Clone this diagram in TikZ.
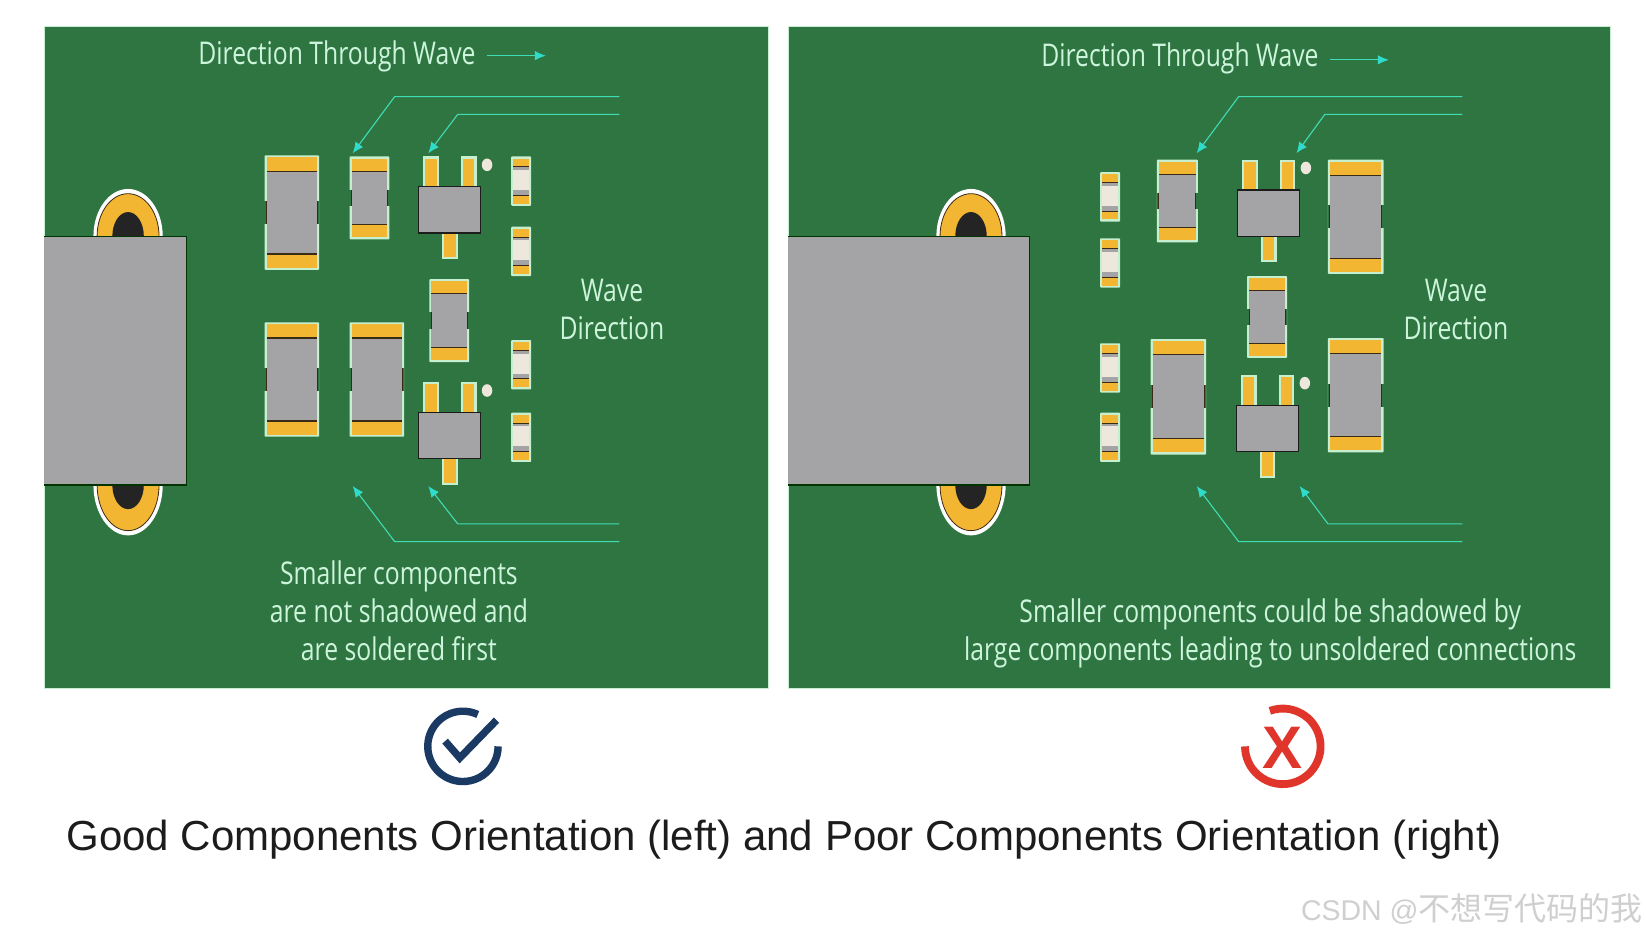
\documentclass[tikz,border=0pt]{standalone}
\usepackage{fontspec}
\setmainfont{Liberation Sans}
\newfontfamily\pcbfont[FakeStretch=0.79]{Open Sans}
\newfontfamily\capfont{Liberation Sans}
\newfontfamily\cjkfont{Noto Sans CJK SC}
\usetikzlibrary{arrows.meta}
\definecolor{board}{HTML}{2F7541}
\definecolor{edgeL}{HTML}{C6EFCF}
\definecolor{padY}{HTML}{F2B632}
\definecolor{padD}{HTML}{3A2A18}
\definecolor{bodyG}{HTML}{A4A4A6}
\definecolor{cream}{HTML}{EDE7DC}
\definecolor{lineT}{HTML}{3FDDB6}
\definecolor{tipT}{HTML}{2FDCCB}
\definecolor{textL}{HTML}{CDF5DC}
\definecolor{navy}{HTML}{1B3A63}
\definecolor{redI}{HTML}{E0352B}
\definecolor{inkK}{HTML}{1C1C1C}
\definecolor{holeK}{HTML}{242424}
\tikzset{
 panel/.style={fill=board,draw=edgeL,line width=.6pt},
 pcbtext/.style={font=\pcbfont\fontsize{31.3}{37.8}\selectfont,text=textL,align=center,inner sep=0pt},
 guide/.style={draw=lineT,line width=1.1pt,-{Latex[length=11pt,width=9.5pt,color=tipT]}},
 mainedge/.style={draw=black!80!green,line width=1.2pt},
 legout/.style={fill=edgeL},
}
% big/medium chip: x1 y1 x2 y2 pad-height
\newcommand{\chip}[5]{%
 \fill[edgeL,rounded corners=.8pt] (#1,#2) rectangle (#3,#4);
 \fill[bodyG] (#1+2,#2+2) rectangle (#3-2,#4-2);
 \fill[board] (#1-.3,{#2+(#4-#2)*.40}) rectangle (#1+1.8,{#2+(#4-#2)*.60});
 \fill[board] (#3+.3,{#2+(#4-#2)*.40}) rectangle (#3-1.8,{#2+(#4-#2)*.60});
 \draw[padD,line width=.9pt] (#1+1.8,{#2+(#4-#2)*.40}) -- (#1+1.8,{#2+(#4-#2)*.60});
 \draw[padD,line width=.9pt] (#3-1.8,{#2+(#4-#2)*.40}) -- (#3-1.8,{#2+(#4-#2)*.60});
 \fill[padY] (#1+2,#2+2) rectangle (#3-2,#2+2+#5);
 \fill[padY] (#1+2,#4-2) rectangle (#3-2,#4-2-#5);
 \draw[padD,line width=1.1pt] (#1+2,#2+2+#5) -- (#3-2,#2+2+#5);
 \draw[padD,line width=1.1pt] (#1+2,#4-2-#5) -- (#3-2,#4-2-#5);
}
% small chip with cream body
\newcommand{\smallchip}[2]{%
 \fill[edgeL,rounded corners=.8pt] (#1,#2) rectangle (#1+19,#2+47);
 \fill[bodyG] (#1+2,#2+2) rectangle (#1+17,#2+45);
 \fill[cream] (#1+2,#2+13) rectangle (#1+17,#2+32);
 \fill[padY] (#1+2,#2+2) rectangle (#1+17,#2+10);
 \fill[padY] (#1+2,#2+37) rectangle (#1+17,#2+45);
 \draw[padD,line width=1pt] (#1+2,#2+10) -- (#1+17,#2+10);
 \draw[padD,line width=1pt] (#1+2,#2+37) -- (#1+17,#2+37);
}
% transistor: left of body, top of body
\newcommand{\transistor}[2]{%
 \fill[legout] (#1+4,#2-29) rectangle (#1+19,#2+2);
 \fill[legout] (#1+40,#2-29) rectangle (#1+55,#2+2);
 \fill[legout] (#1+22,#2+42) rectangle (#1+37,#2+69);
 \fill[padY] (#1+6,#2-27) rectangle (#1+17,#2+2);
 \fill[padY] (#1+42,#2-27) rectangle (#1+53,#2+2);
 \fill[padY] (#1+24,#2+42) rectangle (#1+35,#2+67);
 \filldraw[fill=bodyG,draw=inkK,line width=1.1pt] (#1,#2) rectangle (#1+59,#2+44);
 \fill[cream] (#1+65,#2-21) ellipse [x radius=5,y radius=6];
}
% mounting pad pair and connector body
\newcommand{\connector}[3]{%
 \foreach \cy/\ry in {225/45,462/48}{
  \fill[white] (#1,\cy) ellipse [x radius=33,y radius=\ry];
  \filldraw[fill=padY,draw=padD,line width=.8pt] (#1,\cy) ellipse [x radius=29.5,y radius=\ry-4.5];
  \fill[holeK] (#1,\cy) ellipse [x radius=15,y radius=23];
 }
 \fill[bodyG] (#2,225) rectangle (#3,462);
 \draw[mainedge] (#2,225) -- (#3,225) -- (#3,462) -- (#2,462);
}
\begin{document}
\begin{tikzpicture}[x=1.0497pt,y=-1.0497pt]
\useasboundingbox (0,0) rectangle (1568,893);
\fill[white] (0,0) rectangle (1568,893);

% panels
\filldraw[panel] (42,25) rectangle (732,656);
\filldraw[panel] (751,25) rectangle (1534,656);

% ---------- left panel
\connector{122}{42}{178}
\chip{252}{148}{304}{257}{13}
\chip{333}{149}{371}{228}{12}
\chip{252}{307}{304}{416}{13}
\chip{333}{307}{385}{416}{13}
\chip{409}{266}{447}{345}{12}
\transistor{399}{178}
\transistor{399}{393}
\smallchip{487}{149}
\smallchip{487}{216}
\smallchip{487}{324}
\smallchip{487}{393}

% ---------- right panel
\connector{925}{751}{981}
\chip{1265}{152}{1318}{261}{13}
\chip{1102}{152}{1141}{231}{12}
\chip{1096}{323}{1149}{433}{13}
\chip{1265}{322}{1318}{431}{13}
\chip{1188}{263}{1226}{341}{12}
\transistor{1179}{181}
\transistor{1178}{386}
\smallchip{1048}{164}
\smallchip{1048}{227}
\smallchip{1048}{327}
\smallchip{1048}{393}

% guides left
\coordinate (la1) at (590,92);  \coordinate (la2) at (376,92);  \coordinate (la3) at (336,146);
\coordinate (lb1) at (590,109); \coordinate (lb2) at (436,109); \coordinate (lb3) at (408,146);
\coordinate (lc1) at (590,516); \coordinate (lc2) at (376,516); \coordinate (lc3) at (336,463);
\coordinate (ld1) at (590,499); \coordinate (ld2) at (436,499); \coordinate (ld3) at (408,463);
\draw[guide] (la1) -- (la2) -- (la3);
\draw[guide] (lb1) -- (lb2) -- (lb3);
\draw[guide] (lc1) -- (lc2) -- (lc3);
\draw[guide] (ld1) -- (ld2) -- (ld3);
% guides right
\coordinate (ra1) at (1393,92);  \coordinate (ra2) at (1180,92);  \coordinate (ra3) at (1140,146);
\coordinate (rb1) at (1393,109); \coordinate (rb2) at (1262,109); \coordinate (rb3) at (1235,146);
\coordinate (rc1) at (1393,516); \coordinate (rc2) at (1180,516); \coordinate (rc3) at (1140,463);
\coordinate (rd1) at (1393,499); \coordinate (rd2) at (1265,499); \coordinate (rd3) at (1238,463);
\draw[guide] (ra1) -- (ra2) -- (ra3);
\draw[guide] (rb1) -- (rb2) -- (rb3);
\draw[guide] (rc1) -- (rc2) -- (rc3);
\draw[guide] (rd1) -- (rd2) -- (rd3);
% direction arrows
\coordinate (da1) at (464,53);  \coordinate (da2) at (520,53);
\coordinate (db1) at (1267,57); \coordinate (db2) at (1323,57);
\draw[guide] (da1) -- (da2);
\draw[guide] (db1) -- (db2);

% texts
\node[pcbtext] (dirL) at (321,54) {Direction Through Wave};
\node[pcbtext] (dirR) at (1124,55.5) {Direction Through Wave};
\node[pcbtext] (waveL) at (583,295) {Wave\\Direction};
\node[pcbtext] (waveR) at (1387,295) {Wave\\Direction};
\node[pcbtext] (noteL) at (380,582) {Smaller components\\are not shadowed and\\are soldered first};
\node[pcbtext] (noteR) at (1210,603) {Smaller components could be shadowed by\\large components leading to unsoldered connections};

% icons
\draw[navy,line width=7.4pt] (441,711) ++(-65:33.5) arc[start angle=-65,end angle=-360,radius=33.5];
\draw[navy,line width=7.4pt] (424,706) -- (438,722) -- (473,686);
\draw[redI,line width=7.8pt] (1222,711) ++(-110:36) arc[start angle=-110,end angle=180,radius=36];
\node[font=\capfont\bfseries\fontsize{60}{60}\selectfont,text=redI,inner sep=0pt] (xmark) at (1222,712) {X};

% caption
\node[font=\capfont\fontsize{42}{48}\selectfont,text=inkK,anchor=west,inner sep=0pt] (caption) at (63,800)
 {Good Components Orientation (left) and Poor Components Orientation (right)};

% watermark
\node[text=black!19,anchor=east,inner sep=0pt] (mark) at (1565,866)
 {\capfont\fontsize{28.5}{32}\selectfont CSDN @\cjkfont\fontsize{32}{36}\selectfont 不想写代码的我};
\end{tikzpicture}
\end{document}
